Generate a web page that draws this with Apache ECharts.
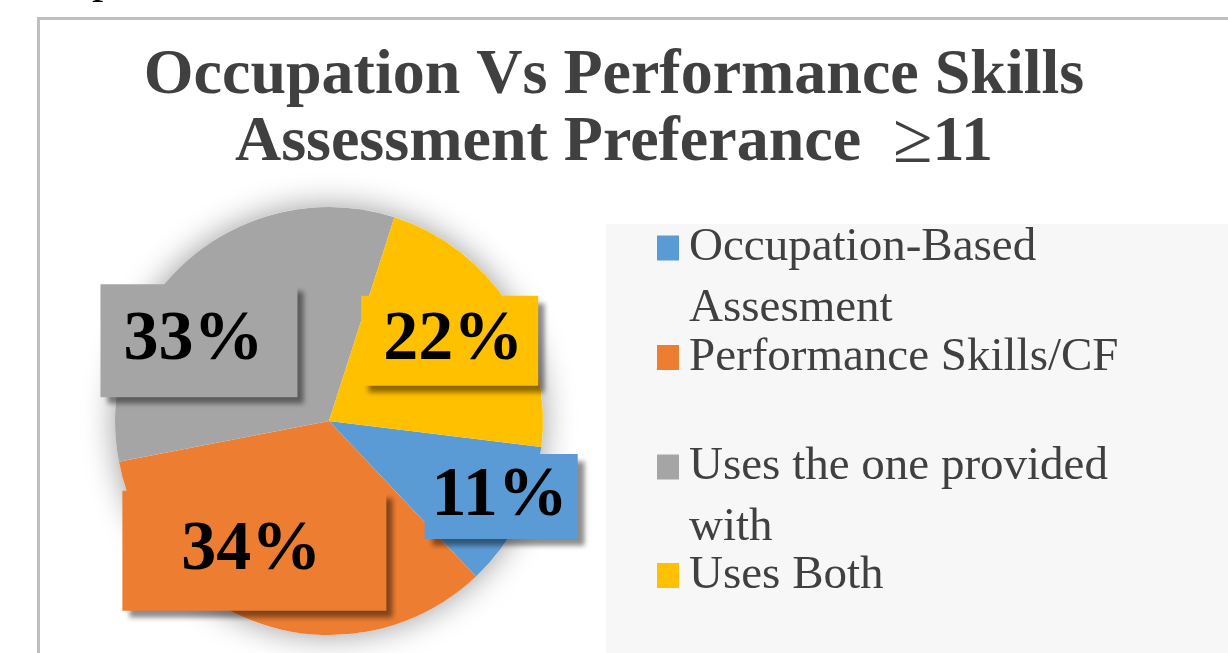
<!DOCTYPE html>
<html>
<head>
<meta charset="utf-8">
<script src="https://cdn.jsdelivr.net/npm/echarts@6/dist/echarts.min.js"></script>
<style>
  html, body { margin: 0; padding: 0; background: #fff; }
  #chart { width: 1228px; height: 653px; }
</style>
</head>
<body>
<div id="chart"></div>
<script>
const categories = ['Occupation-Based Assesment', 'Performance Skills/CF', 'Uses the one provided with', 'Uses Both'];
const shares = [11, 34, 33, 22];
const legendLabels = ['Occupation-Based\nAssesment', 'Performance Skills/CF', 'Uses the one provided\nwith', 'Uses Both'];
const colors = ['#5B9BD5', '#ED7D31', '#A5A5A5', '#FFC000'];

// label box padding [top, right, bottom, left] and nudge from the default inside spot
const labelPads = [[7, 10, 8, 7], [24, 65, 26, 59], [7, 34, 36, 23], [12, 15, 8, 22]];
const labelShift = [[74, 26], [-41, 25], [-57, 2], [28, -21]];

// legend entries sit in even slots, marker level with the first text line
const legendMarkerY = [248, 357.5, 467, 575.5];
const legendLine = 61;

const serif = 'Liberation Serif, Times New Roman, serif';
const total = shares.reduce((a, b) => a + b, 0);

const legends = categories.map((name, i) => {
  const lines = legendLabels[i].split('\n').length;
  // legend text is centred on the marker, so pad multi-line entries with
  // empty lines above to keep the marker next to the first line
  const text = '\n'.repeat(lines - 1) + legendLabels[i];
  const boxH = (2 * lines - 1) * legendLine;
  return {
    orient: 'vertical',
    left: 657,
    top: legendMarkerY[i] - boxH / 2,
    padding: 0,
    itemWidth: 22,
    itemHeight: 25,
    icon: 'rect',
    selectedMode: false,
    data: [name],
    formatter: () => text,
    textStyle: {
      fontFamily: serif,
      fontSize: 47,
      lineHeight: legendLine,
      color: '#404040',
      padding: [0, 0, 0, 5]
    }
  };
});

const chart = echarts.init(document.getElementById('chart'));

chart.setOption({
  animation: false,
  title: {
    text: 'Occupation Vs Performance Skills\nAssessment Preferance  {g|≥}11',
    left: 'center',
    top: 43,
    padding: [0, 0, 0, 10],
    textStyle: {
      fontFamily: serif,
      fontWeight: 'bold',
      fontSize: 64,
      lineHeight: 67,
      color: '#404040',
      rich: {
        g: { fontFamily: serif, fontWeight: 'normal', fontSize: 72, lineHeight: 67, color: '#404040' }
      }
    }
  },
  graphic: [
    {
      type: 'rect',
      z: -10,
      shape: { x: 38.5, y: 18.5, width: 1400, height: 900 },
      style: { fill: 'none', stroke: '#bfbfbf', lineWidth: 3 }
    },
    {
      type: 'rect',
      z: -9,
      shape: { x: 606, y: 224, width: 700, height: 500 },
      style: { fill: '#f7f7f7' }
    },
    {
      type: 'text',
      x: 92,
      y: -20,
      style: { text: 'p', font: '46px ' + serif, fill: '#000', verticalAlign: 'middle' }
    }
  ],
  legend: legends,
  series: [
    {
      // backdrop that throws the soft shadow round the pie
      type: 'pie',
      silent: true,
      z: 1,
      center: [329, 421],
      radius: 214,
      label: { show: false },
      labelLine: { show: false },
      itemStyle: { color: '#fff', shadowBlur: 32, shadowColor: 'rgba(0,0,0,0.4)' },
      data: [{ value: total, name: 'backdrop' }]
    },
    {
      type: 'pie',
      z: 2,
      center: [329, 421],
      radius: 214,
      startAngle: -7,
      clockwise: true,
      avoidLabelOverlap: false,
      emphasis: { disabled: true },
      labelLine: { show: false },
      label: {
        show: true,
        position: 'inside',
        formatter: '{d}%',
        fontFamily: serif,
        fontWeight: 'bold',
        fontSize: 70,
        lineHeight: 70,
        color: '#000',
        shadowColor: 'rgba(0,0,0,0.45)',
        shadowBlur: 5,
        shadowOffsetX: 7,
        shadowOffsetY: 7
      },
      labelLayout: params => {
        const s = labelShift[params.dataIndex];
        return { dx: s[0], dy: s[1] };
      },
      data: categories.map((name, i) => ({
        name,
        value: shares[i],
        itemStyle: { color: colors[i] },
        label: { backgroundColor: colors[i], padding: labelPads[i] }
      }))
    }
  ]
});
</script>
</body>
</html>
